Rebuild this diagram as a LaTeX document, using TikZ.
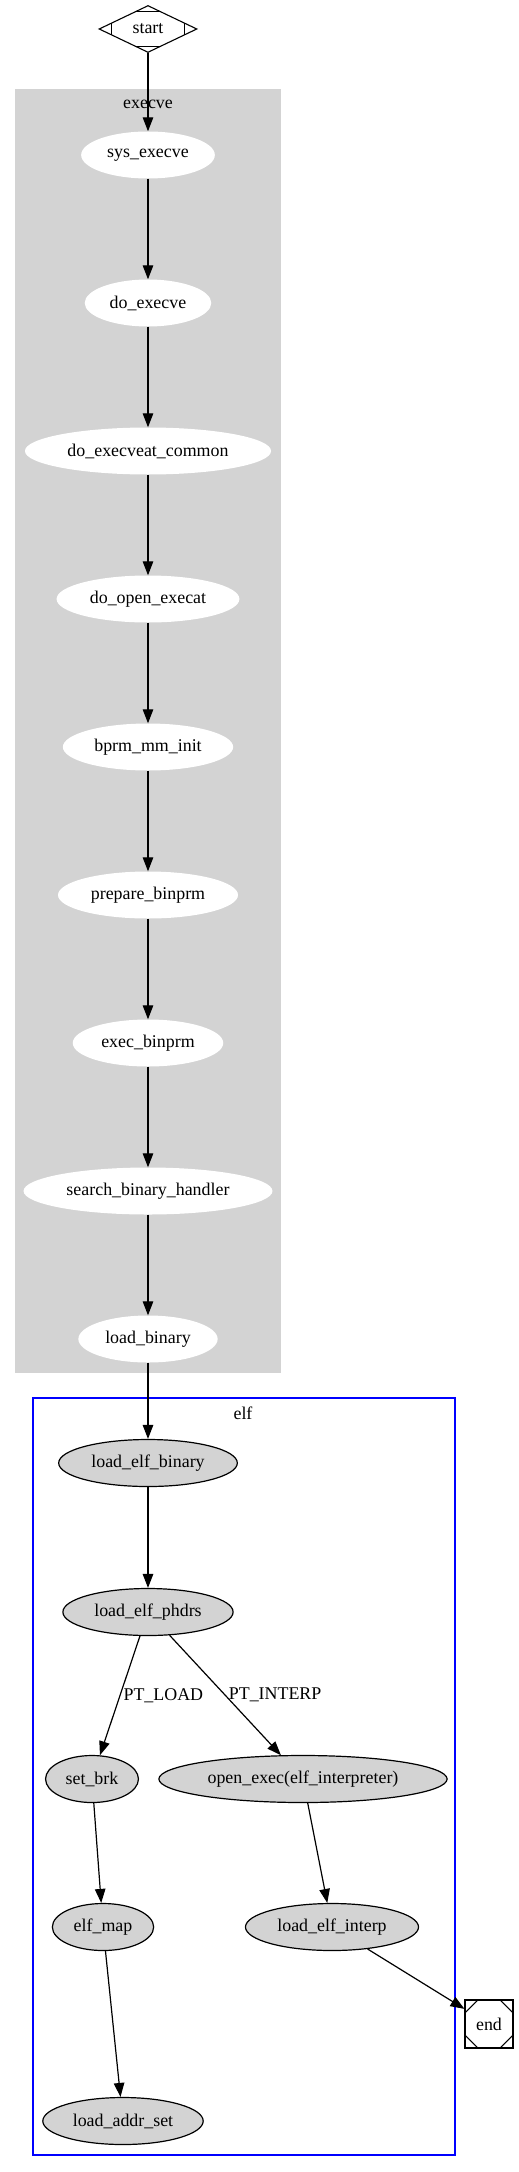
\documentclass[tikz,border=0pt]{standalone}
\usepackage{fontspec}
\setmainfont{Liberation Serif}
\usepackage{tikz}
\usetikzlibrary{arrows.meta,shapes.geometric,calc}

\definecolor{clgray}{RGB}{211,211,211}

\begin{document}
\begin{tikzpicture}[x=1bp, y=-1bp,
  every node/.style={font=\fontsize{17.9bp}{21bp}\selectfont},
  fn/.style={ellipse, fill=white, minimum height=47bp, inner xsep=6.5bp, inner ysep=2bp},
  elffn/.style={fn, draw, fill=clgray, line width=1.2bp},
  arr/.style={-{Triangle[length=14bp, width=10.5bp]}, line width=1.2bp},
  lab/.style={inner sep=3bp, anchor=west},
  cut/.style={line width=1.1bp}]
\useasboundingbox (0,0) rectangle (519,2172);

% clusters
\fill[clgray] (15,89) rectangle (281,1373);
\node (execvelab) at (148,104) {execve};
\draw[blue, line width=1.3bp] (33,1398) rectangle (455,2155);
\node (elflab) at (243,1413) {elf};

% start / end
\node[diamond, draw, line width=1.1bp, minimum width=98bp, minimum height=47bp, aspect=2, inner sep=0pt] (start) at (148,29) {start};
\draw[cut] ($(start.north)!0.27!(start.west)$) -- ($(start.north)!0.27!(start.east)$);
\draw[cut] ($(start.south)!0.27!(start.west)$) -- ($(start.south)!0.27!(start.east)$);
\draw[cut] ($(start.west)!0.27!(start.north)$) -- ($(start.west)!0.27!(start.south)$);
\draw[cut] ($(start.east)!0.27!(start.north)$) -- ($(start.east)!0.27!(start.south)$);

\node[draw, line width=1.1bp, minimum size=48bp, inner sep=0pt] (end) at (489,2024) {end};
\draw[cut] ([yshift=-14bp]end.north west) -- ([xshift=14bp]end.north west);
\draw[cut] ([yshift=-14bp]end.north east) -- ([xshift=-14bp]end.north east);
\draw[cut] ([yshift=14bp]end.south west) -- ([xshift=14bp]end.south west);
\draw[cut] ([yshift=14bp]end.south east) -- ([xshift=-14bp]end.south east);

% execve
\node[fn] (sysexecve)  at (148,155)  {sys\_execve};
\node[fn] (doexecve)   at (148,303)  {do\_execve};
\node[fn] (doexecveat) at (148,451)  {do\_execveat\_common};
\node[fn] (doopen)     at (148,599)  {do\_open\_execat};
\node[fn] (bprmmm)     at (148,747)  {bprm\_mm\_init};
\node[fn] (prepbin)    at (148,895)  {prepare\_binprm};
\node[fn] (execbin)    at (148,1043) {exec\_binprm};
\node[fn] (searchbin)  at (148,1191) {search\_binary\_handler};
\node[fn] (loadbin)    at (148,1339) {load\_binary};

% elf
\node[elffn] (loadelfbin)  at (148,1463) {load\_elf\_binary};
\node[elffn] (loadphdrs)   at (148,1612) {load\_elf\_phdrs};
\node[elffn] (setbrk)      at (92,1779)  {set\_brk};
\node[elffn] (openexec)    at (303,1779) {open\_exec(elf\_interpreter)};
\node[elffn] (elfmap)      at (103,1927) {elf\_map};
\node[elffn] (loadinterp)  at (332,1927) {load\_elf\_interp};
\node[elffn] (loadaddr)    at (123,2121) {load\_addr\_set};

\draw[arr] (start) -- (sysexecve);
\draw[arr] (sysexecve) -- (doexecve);
\draw[arr] (doexecve) -- (doexecveat);
\draw[arr] (doexecveat) -- (doopen);
\draw[arr] (doopen) -- (bprmmm);
\draw[arr] (bprmmm) -- (prepbin);
\draw[arr] (prepbin) -- (execbin);
\draw[arr] (execbin) -- (searchbin);
\draw[arr] (searchbin) -- (loadbin);
\draw[arr] (loadbin) -- (loadelfbin);
\draw[arr] (loadelfbin) -- (loadphdrs);
\draw[arr] (loadphdrs) -- node[lab] {PT\_LOAD} (setbrk);
\draw[arr] (loadphdrs) -- node[lab] {PT\_INTERP} (openexec);
\draw[arr] (setbrk) -- (elfmap);
\draw[arr] (elfmap) -- (loadaddr);
\draw[arr] (openexec) -- (loadinterp);
\draw[arr] (loadinterp) -- (end);
\end{tikzpicture}
\end{document}
